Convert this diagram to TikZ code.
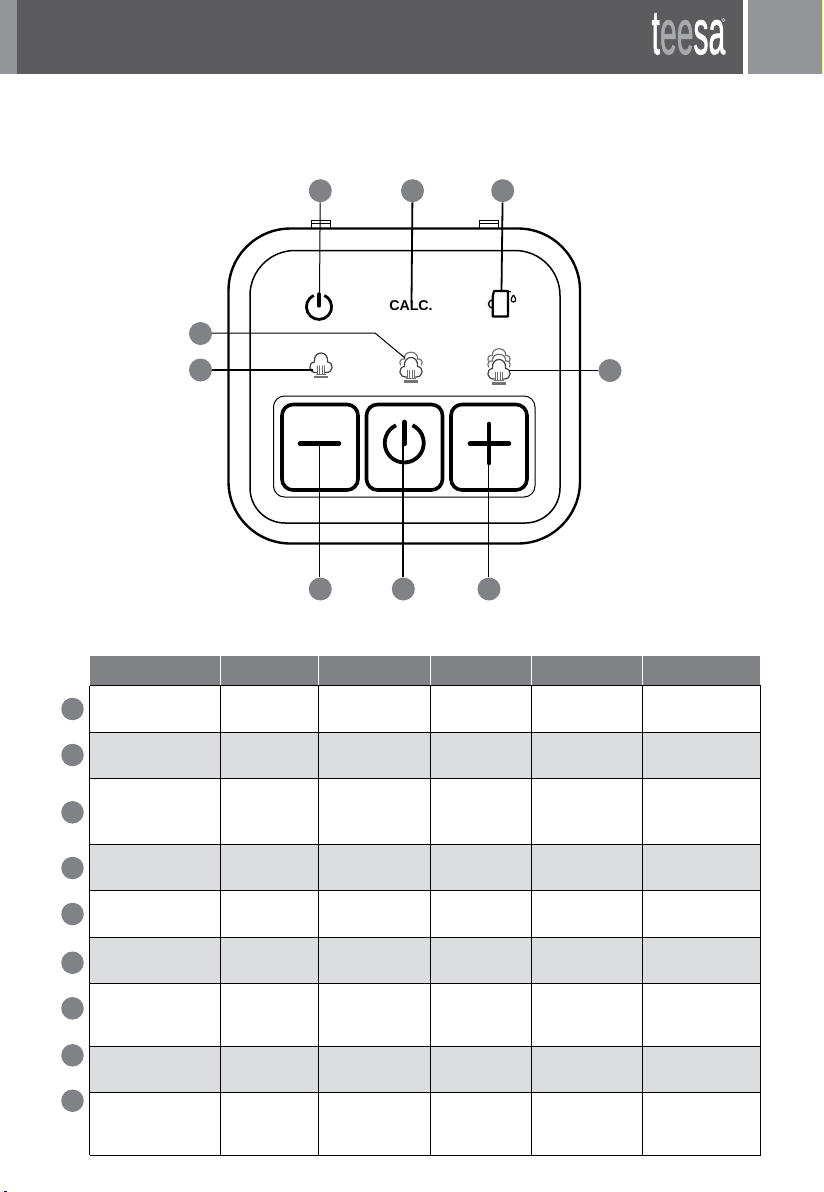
\documentclass[tikz,border=0pt]{standalone}
\usepackage{fontspec}
\setmainfont{Liberation Sans}
\newfontfamily\logofont[FakeBold=1.5]{Liberation Sans}
\definecolor{hdark}{HTML}{5C5C5E}
\definecolor{hgrey}{HTML}{939598}
\definecolor{dotgrey}{HTML}{808285}
\definecolor{rowgrey}{HTML}{DCDDDF}
\definecolor{logogrey}{HTML}{A7A9AC}
\definecolor{cloudgrey}{HTML}{6D6E71}
\definecolor{edgeyellow}{HTML}{F5F29A}
\tikzset{
  dot/.style={circle,fill=dotgrey,draw=none,minimum size=23pt,inner sep=0pt},
  thinlead/.style={line width=1pt,black},
  boldlead/.style={line width=1.8pt,black},
  keybox/.style={line width=3.6pt,rounded corners=11pt,black},
  keysym/.style={line width=4.6pt,line cap=round,black},
  cloudline/.style={line width=1pt,cloudgrey,line cap=round},
  tabline/.style={line width=1pt,black},
  steambase/.pic={
    \draw[cloudline,line width=1.2pt,black!75] (-4.5,8) .. controls (-13,8.5) and (-13,-2) .. (-6.5,-2.5)
       .. controls (-8,-14.5) and (8,-14.5) .. (6.5,-2.5)
       .. controls (13,-2) and (13,8.5) .. (4.5,8);
    \foreach \sx in {-3.6,-1.2,1.2,3.6}{\draw[cloudline,line width=1.1pt] (\sx,1.5) -- (\sx,9.5);}
    \draw[cloudline,line width=1pt] (-4.6,9.5) -- (4.6,9.5);
    \draw[cloudline,line width=2.4pt,black!55,line cap=butt] (-7,12.5) -- (7,12.5);
  },
  steamcap/.pic={
    \draw[cloudline,line width=1.2pt,black!55] (-10.5,1) .. controls (-12.5,-3.5) and (-9,-5.5) .. (-6.5,-5)
       .. controls (-8,-14) and (8,-14) .. (6.5,-5)
       .. controls (9,-5.5) and (12.5,-3.5) .. (10.5,1);
  }
}
\begin{document}
\begin{tikzpicture}[x=1pt,y=-1pt]
\useasboundingbox (0,0) rectangle (823,1192);
\fill[white] (0,0) rectangle (823,1192);
% header band
\fill[hgrey] (0,0) rectangle (17,74);
\fill[hdark] (17,0) rectangle (743,74);
\fill[hgrey] (748,0) rectangle (822,74);
\fill[edgeyellow] (822,0) rectangle (823,74);
\node[inner sep=0pt,anchor=base west,xscale=0.478,text=white] (logo) at (651.5,54)
  {\logofont\fontsize{63}{63}\selectfont t\textcolor{logogrey}{ee}sa};
\draw[white,line width=0.4pt] (723.3,20) circle (1.6);
% housing
\draw[line width=2.4pt,rounded corners=62pt] (228.5,228.5) rectangle (580,543.5);
\draw[line width=1.5pt,rounded corners=45pt] (250,390) -- (250,250.5) -- (560,250.5) -- (560,390);
\draw[line width=1.5pt,rounded corners=35pt] (560,390) -- (560,523) -- (250,523) -- (250,390);
\draw[line width=1pt] (311.7,220.7) rectangle (330,228);
\draw[line width=1pt] (479,220.7) rectangle (498,228);
\draw[line width=1pt] (311.7,223) -- (330,223);
\draw[line width=1pt] (479,223) -- (498,223);
% button panel and keys
\draw[line width=1pt,rounded corners=11pt] (273.5,396) rectangle (535,497);
\draw[keybox] (282,404.5) rectangle (358,490);
\draw[keybox] (366.5,404.5) rectangle (442.5,490);
\draw[keybox] (451,404.5) rectangle (527,490);
\draw[keysym] (300,443.7) -- (339,443.7);
\draw[keysym] (470,443.7) -- (509,443.7);
\draw[keysym] (489,424) -- (489,463);
\draw[line width=3.8pt,black] (396,425.3) arc[start angle=-115,end angle=-425,radius=19.5];
\draw[keysym] (404.3,422) -- (404.3,444);
% indicators
\draw[line width=2.8pt,black] (313.7,295.4) arc[start angle=-115,end angle=-425,radius=12.6];
\draw[line width=3.2pt,line cap=round] (319,294) -- (319,306);
\node[inner sep=0pt,font=\bfseries\fontsize{14.2}{14}\selectfont] (calc) at (411,306) {CALC.};
\draw[line width=2.2pt,line join=round] (494,291) -- (508,291) -- (508,316.5) -- (492.8,316.5) -- (492.8,296) -- cycle;
\draw[line width=1.4pt] (492.5,308) arc[start angle=90,end angle=270,radius=4];
\draw[line width=1pt] (508,291) -- (511,292);
\draw[line width=1.2pt] (513.5,295) .. controls (510,299) and (511,302) .. (513.5,302) .. controls (516,302) and (516.5,299) .. (513.5,295);
\pic at (321,364.5) {steambase};
\pic at (411,369) {steambase};
\pic at (411,364) {steamcap};
\pic at (499,371) {steambase};
\pic at (499,366) {steamcap};
\pic at (499,360.5) {steamcap};
% numbered dots
\node[dot] (t1) at (320.3,190.7) {};
\node[dot] (t2) at (412.5,190.7) {};
\node[dot] (t3) at (502.7,190.7) {};
\node[dot] (l1) at (200.5,333.5) {};
\node[dot] (l2) at (200.5,370) {};
\node[dot] (r1) at (610,370.5) {};
\node[dot] (b1) at (320.3,589) {};
\node[dot] (b2) at (403.3,589) {};
\node[dot] (b3) at (489,589) {};
% leader ends
\coordinate (et1) at (319.5,296);
\coordinate (et2) at (411.5,303);
\coordinate (et3) at (501.5,291);
\coordinate (bl1) at (375,333);
\coordinate (el1) at (405,358);
\coordinate (el2) at (313,370);
\coordinate (er1) at (509,370.5);
\coordinate (eb1) at (319.5,444);
\coordinate (eb2) at (403,444);
\coordinate (eb3) at (488.5,464);
\draw[thinlead] (t1) -- (et1);
\draw[boldlead] (t2) -- (et2);
\draw[boldlead] (t3) -- (et3);
\draw[thinlead] (l1.east |- bl1) -- (bl1) -- (el1);
\draw[boldlead] (l2) -- (el2);
\draw[thinlead] (r1) -- (er1);
\draw[thinlead] (b1.north -| eb1) -- (eb1);
\draw[boldlead] (b2.north -| eb2) -- (eb2);
\draw[thinlead] (b3.north -| eb3) -- (eb3);
% table
\fill[dotgrey] (90,656) rectangle (760,685.3);
\foreach \cx in {220.3,318.5,430.5,531.3,642.5}{\draw[white,line width=1pt] (\cx,656) -- (\cx,685);}
\fill[rowgrey] (89.5,732.3) rectangle (760.5,778);
\fill[rowgrey] (89.5,844) rectangle (760.5,890.3);
\fill[rowgrey] (89.5,937.3) rectangle (760.5,983.3);
\fill[rowgrey] (89.5,1046) rectangle (760.5,1092);
\foreach \ry in {685.5,732.3,778,844,890.3,937.3,983.3,1046,1092,1155.3}{\draw[tabline] (89.5,\ry) -- (760.7,\ry);}
\foreach \cx in {89.5,220.3,318.5,430.5,531.3,642.5,760.7}{\draw[tabline] (\cx,685.5) -- (\cx,1155.3);}
\foreach \dn/\dy in {a/709,b/755,c/812.3,d/868,e/914,f/962.7,g/1008.3,h/1055.3,i/1100.7}{
  \node[dot,minimum size=22.5pt] (row\dn) at (72.5,\dy) {};
}
\fill[blue!60!black] (4,1191) rectangle (7,1192);
\end{tikzpicture}
\end{document}
